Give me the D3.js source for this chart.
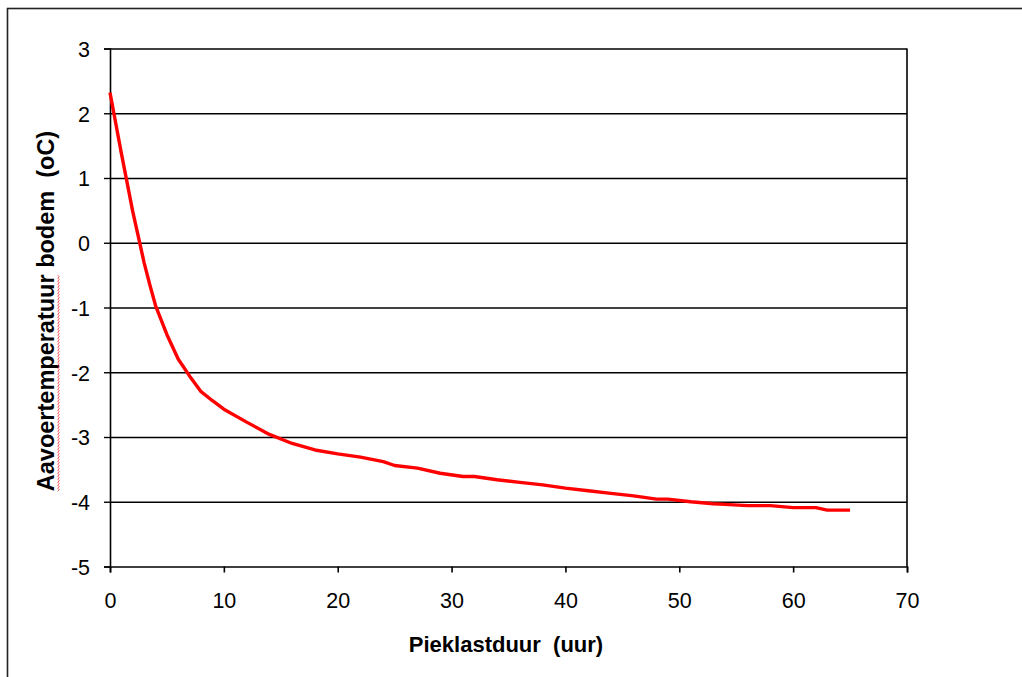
<!DOCTYPE html>
<html>
<head>
<meta charset="utf-8">
<script src="https://cdn.jsdelivr.net/npm/d3@7"></script>
<style>
  body { margin: 0; background: #fff; }
  svg text { font-family: "Liberation Sans", Arial, sans-serif; fill: #000; }
</style>
</head>
<body>
<div id="chart"></div>
<script>
// Pieklastduur (uur) against aanvoertemperatuur bodem (oC)
var hours = [0, 1, 2, 3, 3.5, 4, 5, 6, 7, 8, 9, 10, 12, 14, 16, 18, 20, 22, 24, 25, 27, 29, 31, 32,
             34, 36, 38, 40, 42, 44, 46, 48, 49, 51, 53, 54, 56, 58, 60, 62, 63, 65];
var temps = [2.32, 1.38, 0.48, -0.31, -0.65, -0.97, -1.42, -1.80, -2.06, -2.30, -2.44, -2.57, -2.77, -2.96,
             -3.10, -3.20, -3.26, -3.31, -3.38, -3.44, -3.48, -3.56, -3.61, -3.61,
             -3.66, -3.70, -3.74, -3.79, -3.83, -3.87, -3.91, -3.96, -3.96, -4.00, -4.03, -4.04,
             -4.06, -4.06, -4.09, -4.09, -4.13, -4.13];
var xTicks = [0, 10, 20, 30, 40, 50, 60, 70];
var yTicks = [3, 2, 1, 0, -1, -2, -3, -4, -5];

var xLabel = "Pieklastduur  (uur)";
var yLabel = "Aavoertemperatuur bodem  (oC)";

var width = 1022, height = 677;
var plot = { left: 110, right: 907, top: 48.5, bottom: 566.5 };

var svg = d3.select("#chart").append("svg")
  .attr("width", width)
  .attr("height", height);

// outer chart frame, cut off at the right and bottom
svg.append("rect")
  .attr("x", 7.5).attr("y", 8.5)
  .attr("width", 1100).attr("height", 1000)
  .attr("fill", "none")
  .attr("stroke", "#222")
  .attr("stroke-width", 1.6);

var x = d3.scaleLinear().domain([0, 70]).range([plot.left, plot.right]);
var y = d3.scaleLinear().domain([-5, 3]).range([plot.bottom, plot.top]);

// horizontal gridlines
svg.append("g")
  .attr("transform", "translate(" + plot.left + ",0)")
  .call(d3.axisLeft(y).tickValues(yTicks.filter(d => d > -5)).tickSize(-(plot.right - plot.left)).tickFormat(""))
  .call(g => g.select(".domain").remove())
  .selectAll("line")
  .attr("stroke", "#000")
  .attr("stroke-width", 1.4);

// right border of plot area
svg.append("line")
  .attr("x1", plot.right).attr("x2", plot.right)
  .attr("y1", plot.top).attr("y2", plot.bottom)
  .attr("stroke", "#000")
  .attr("stroke-width", 1.6);

// y axis (plain hyphen for negatives, as in the original)
var yAxis = svg.append("g")
  .attr("transform", "translate(" + plot.left + ",0)")
  .call(d3.axisLeft(y).tickValues(yTicks).tickSize(6).tickPadding(14).tickFormat(d => String(d)));
yAxis.select(".domain").attr("stroke", "#000").attr("stroke-width", 1.6);
yAxis.selectAll("line").attr("stroke", "#000").attr("stroke-width", 1.4);
yAxis.selectAll("text").style("font-size", "21.5px").attr("dy", "0.36em");

// x axis
var xAxis = svg.append("g")
  .attr("transform", "translate(0," + plot.bottom + ")")
  .call(d3.axisBottom(x).tickValues(xTicks).tickSize(6).tickPadding(20).tickFormat(d => String(d)));
xAxis.select(".domain").attr("stroke", "#000").attr("stroke-width", 1.6);
xAxis.selectAll("line").attr("stroke", "#000").attr("stroke-width", 1.6);
xAxis.selectAll("text").style("font-size", "21.5px").attr("dy", "0.71em");

// the curve
var line = d3.line()
  .x((d, i) => x(hours[i]))
  .y(d => y(d));

svg.append("path")
  .datum(temps)
  .attr("d", line)
  .attr("fill", "none")
  .attr("stroke", "#ff0000")
  .attr("stroke-width", 3.4)
  .attr("stroke-linejoin", "round");

// axis titles
svg.append("text")
  .attr("x", 506)
  .attr("y", 652)
  .attr("text-anchor", "middle")
  .style("font-size", "22px")
  .style("font-weight", "bold")
  .style("white-space", "pre")
  .text(xLabel);

var yTitle = svg.append("g")
  .attr("transform", "translate(54,311) rotate(-90)");

var yText = yTitle.append("text")
  .attr("x", 0)
  .attr("y", 0)
  .attr("text-anchor", "middle")
  .style("font-size", "23.5px")
  .style("font-weight", "bold")
  .style("white-space", "pre")
  .text(yLabel);

// red wavy spell-check underline under the first word
var total = yText.node().getComputedTextLength();
var wordLen = yText.node().getSubStringLength(0, 17);
var x0 = -total / 2, x1 = x0 + wordLen;
var wave = [];
for (var px = x0, k = 0; px <= x1; px += 1.5, k++) {
  wave.push([px, 4 + (k % 2 ? 1.2 : -0.2)]);
}
yTitle.append("path")
  .attr("d", d3.line()(wave))
  .attr("fill", "none")
  .attr("stroke", "#ff2020")
  .attr("stroke-width", 0.8);
</script>
</body>
</html>
